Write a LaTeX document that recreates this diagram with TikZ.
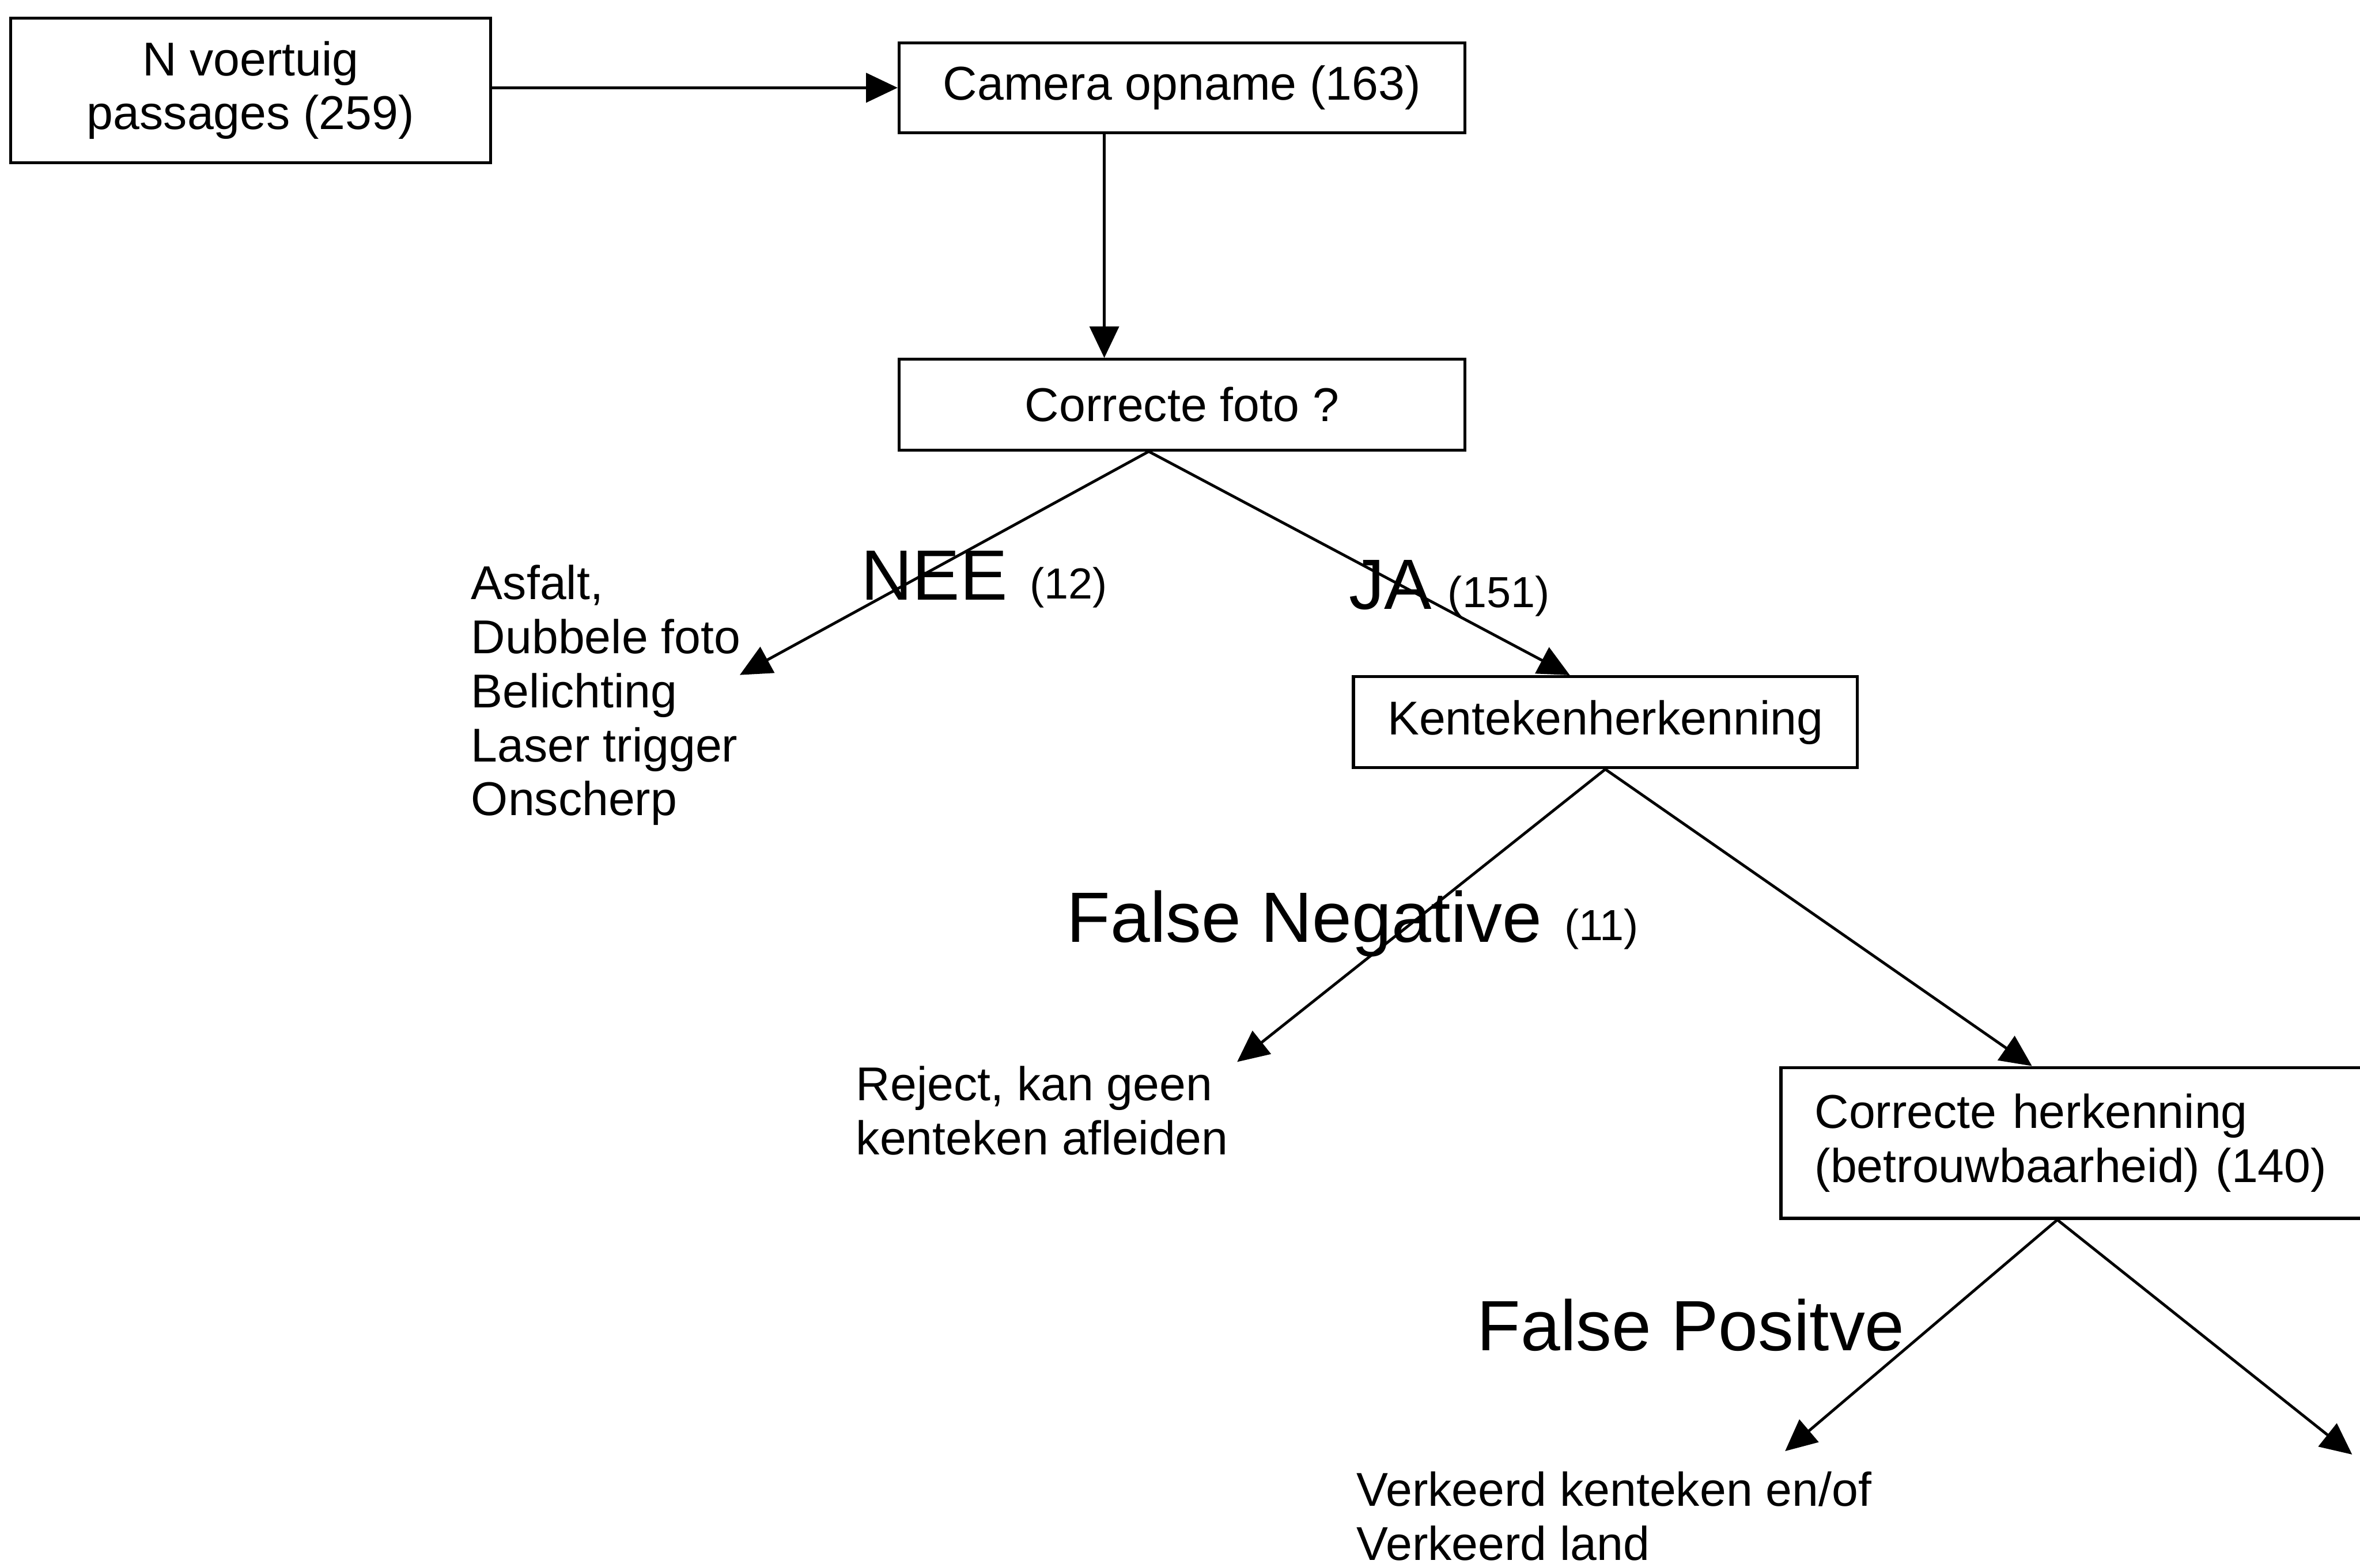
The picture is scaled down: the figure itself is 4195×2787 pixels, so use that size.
\documentclass[tikz,border=0pt]{standalone}
\usepackage{fontspec}
\setmainfont{Liberation Sans}
\usetikzlibrary{arrows.meta}

\begin{document}
\begin{tikzpicture}[x=0.01cm, y=-0.01cm,
    box/.style={draw, line width=1.5pt, inner sep=0pt, align=center, font=\fontsize{24}{27.3}\selectfont},
    txt/.style={inner sep=0pt, anchor=base west, align=left, font=\fontsize{24}{27.3}\selectfont},
    big/.style={inner sep=0pt, anchor=base west, font=\fontsize{36}{40}\selectfont},
    cnt/.style={inner sep=0pt, anchor=base west, font=\fontsize{22}{26}\selectfont},
    arr/.style={line width=1.4pt, -{Triangle[length=5.6mm, width=5.2mm]}}]
    \useasboundingbox (0,0) rectangle (4195,2787); % page
    \node[box, minimum width=8.53cm, minimum height=2.57cm] (passages) at (445.5,160.5) {N voertuig\\passages (259)};
    \node[box, minimum width=10.05cm, minimum height=1.6cm] (camera) at (2101,156) {Camera opname (163)};
    \node[box, minimum width=10.05cm, minimum height=1.61cm] (foto) at (2101,719.5) {Correcte foto ?};
    \node[box, minimum width=8.95cm, minimum height=1.62cm] (kenteken) at (2853.5,1284) {Kentekenherkenning};
    \node[box, align=left, text width=9.74cm, inner xsep=6mm, minimum height=2.68cm] (herkenning) at (3713,2032) {Correcte herkenning\\(betrouwbaarheid) (140)};

    % base = last line
    \node[txt] (oorzaken) at (837,1450) {Asfalt,\\Dubbele foto\\Belichting\\Laser trigger\\Onscherp};
    \node[txt] (reject) at (1521,2053) {Reject, kan geen\\kenteken afleiden};
    \node[txt] (verkeerd) at (2411,2774) {Verkeerd kenteken en/of\\Verkeerd land};

    \node[big] (nee) at (1530,1067) {NEE};
    \node[cnt] (neeN) at (1830,1065) {(12)};
    \node[big] (ja) at (2397,1083) {JA};
    \node[cnt] (jaN) at (2573,1080) {(151)};
    \node[big] (fneg) at (1896,1675) {False Negative};
    \node[cnt] (fnegN) at (2780,1672) {(11)};
    \node[big] (fpos) at (2625,2401) {False Positve};

    \coordinate (neeEnd) at (1315,1200);
    \coordinate (fnegEnd) at (2199,1888);
    \coordinate (fposEnd) at (3173,2580);
    \coordinate (tposEnd) at (4181,2586);

    \draw[arr] (passages.east |- camera.west) -- (camera.west);
    \draw[arr] ([xshift=-13.8mm]camera.south) -- ([xshift=-13.8mm]foto.north);
    \draw[arr] ([xshift=-5.9mm]foto.south) -- (neeEnd);
    \draw[arr] ([xshift=-5.9mm]foto.south) -- ([xshift=-6.3mm]kenteken.north);
    \draw[arr] (kenteken.south) -- (fnegEnd);
    \draw[arr] (kenteken.south) -- ([xshift=-10.1mm]herkenning.north);
    \draw[arr] ([xshift=-5.6mm]herkenning.south) -- (fposEnd);
    \draw[arr] ([xshift=-5.6mm]herkenning.south) -- (tposEnd);
\end{tikzpicture}
\end{document}
